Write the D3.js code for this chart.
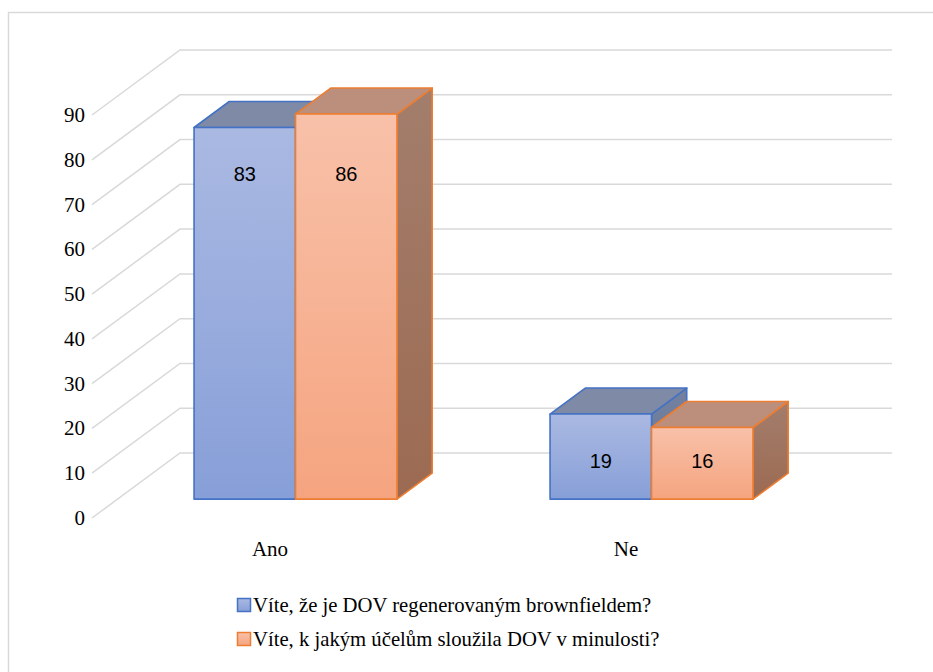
<!DOCTYPE html>
<html><head><meta charset="utf-8"><script src="https://cdn.jsdelivr.net/npm/d3@7"></script>
<style>svg { display: block; }</style></head>
<body style="margin:0">
<svg id="chart" width="933" height="672" font-family="Liberation Serif"></svg>
<script>
const categories = ["Ano", "Ne"];
const seriesNames = [
  "Víte, že je DOV regenerovaným brownfieldem?",
  "Víte, k jakým účelům sloužila DOV v minulosti?"
];
const seriesKnowBrownfield = [83, 19];
const seriesKnowPurpose = [86, 16];
const yTicks = [0, 10, 20, 30, 40, 50, 60, 70, 80, 90];

const allSeries = [seriesKnowBrownfield, seriesKnowPurpose];

const svg = d3.select("#chart");

// outer chart border
svg.append("rect").attr("x", 8.5).attr("y", 12.5).attr("width", 940).attr("height", 680)
  .attr("fill", "none").attr("stroke", "#d9d9d9").attr("stroke-width", 1.5);

// 3D projection settings
const DX = 88, DY = -65;       // full depth offset
const Z0 = 0.29, Z1 = 0.69;    // bar depth span

const y = d3.scaleLinear().domain([0, 90]).range([518, 115]);
const x0 = d3.scaleBand().domain(categories).range([92, 804])
  .paddingInner(0.43).paddingOuter(0.215);
const x1 = d3.scaleBand().domain(d3.range(allSeries.length)).range([0, x0.bandwidth()]);

const proj = (x, v, z) => [x + z * DX, y(v) + z * DY];

// gridlines: left wall diagonals and back wall horizontals
yTicks.forEach(t => {
  const f = proj(92, t, 0), b = proj(92, t, 1);
  svg.append("path").attr("d", d3.line()([f, b, [892, b[1]]]))
    .attr("stroke", "#d9d9d9").attr("stroke-width", 1.5).attr("fill", "none");
});

// tick labels
yTicks.forEach(t => {
  svg.append("text")
    .attr("font-family", "Liberation Serif").attr("font-size", 21)
    .attr("x", 85).attr("y", y(t) + 7)
    .attr("text-anchor", "end")
    .attr("fill", "#000")
    .text(t);
});

// gradients
const defs = svg.append("defs");
const styles = [
  { stroke: "#4472c4", frontTop: "#aab9e2", frontBot: "#879fd8", top: "#7f8aa7", sideTop: "#74819f", sideBot: "#65769c" },
  { stroke: "#ed7d31", frontTop: "#f8c1a9", frontBot: "#f5a47f", top: "#bb8f7c", sideTop: "#a37e6c", sideBot: "#9c6a52" }
];
styles.forEach((s, i) => {
  const gf = defs.append("linearGradient").attr("id", "front" + i).attr("x1", 0).attr("y1", 0).attr("x2", 0).attr("y2", 1);
  gf.append("stop").attr("offset", "0%").attr("stop-color", s.frontTop);
  gf.append("stop").attr("offset", "100%").attr("stop-color", s.frontBot);
  const gs = defs.append("linearGradient").attr("id", "side" + i).attr("x1", 0).attr("y1", 0).attr("x2", 0).attr("y2", 1);
  gs.append("stop").attr("offset", "0%").attr("stop-color", s.sideTop);
  gs.append("stop").attr("offset", "100%").attr("stop-color", s.sideBot);
});

// bars
const poly = pts => "M" + pts.map(p => p.join(",")).join("L") + "Z";
categories.forEach((c, ci) => {
  allSeries.forEach((ser, si) => {
    const v = ser[ci];
    const a = x0(c) + x1(si), b = a + x1.bandwidth();
    const s = styles[si];
    const g = svg.append("g").attr("stroke", s.stroke).attr("stroke-width", 1.6).attr("stroke-linejoin", "round");
    g.append("path").attr("d", poly([proj(b, v, Z0), proj(b, v, Z1), proj(b, 0, Z1), proj(b, 0, Z0)]))
      .attr("fill", `url(#side${si})`);
    g.append("path").attr("d", poly([proj(a, v, Z0), proj(b, v, Z0), proj(b, v, Z1), proj(a, v, Z1)]))
      .attr("fill", s.top);
    g.append("path").attr("d", poly([proj(a, v, Z0), proj(b, v, Z0), proj(b, 0, Z0), proj(a, 0, Z0)]))
      .attr("fill", `url(#front${si})`);
  });
  // data labels
  const refTop = proj(0, allSeries[0][ci], Z0)[1];
  allSeries.forEach((ser, si) => {
    const a = x0(c) + x1(si);
    svg.append("text")
      .attr("font-family", "Liberation Sans").attr("font-size", 20)
      .attr("x", proj(a + x1.bandwidth() / 2, 0, Z0)[0])
      .attr("y", refTop + 54)
      .attr("text-anchor", "middle")
      .attr("fill", "#000")
      .text(ser[ci]);
  });
});

// category labels
categories.forEach(c => {
  svg.append("text")
    .attr("font-family", "Liberation Serif").attr("font-size", 21)
    .attr("x", x0(c) + x0.bandwidth() / 2).attr("y", 556)
    .attr("text-anchor", "middle")
    .attr("fill", "#000")
    .text(c);
});

// legend
seriesNames.forEach((name, i) => {
  const cy = 605 + i * 34;
  svg.append("rect").attr("x", 237.5).attr("y", cy - 6.5).attr("width", 13).attr("height", 13)
    .attr("fill", `url(#front${i})`).attr("stroke", styles[i].stroke).attr("stroke-width", 1.5);
  svg.append("text")
    .attr("font-family", "Liberation Serif").attr("font-size", 20.7)
    .attr("x", 253).attr("y", cy + 7)
    .attr("fill", "#000")
    .text(name);
});
</script>
</body>
</html>
